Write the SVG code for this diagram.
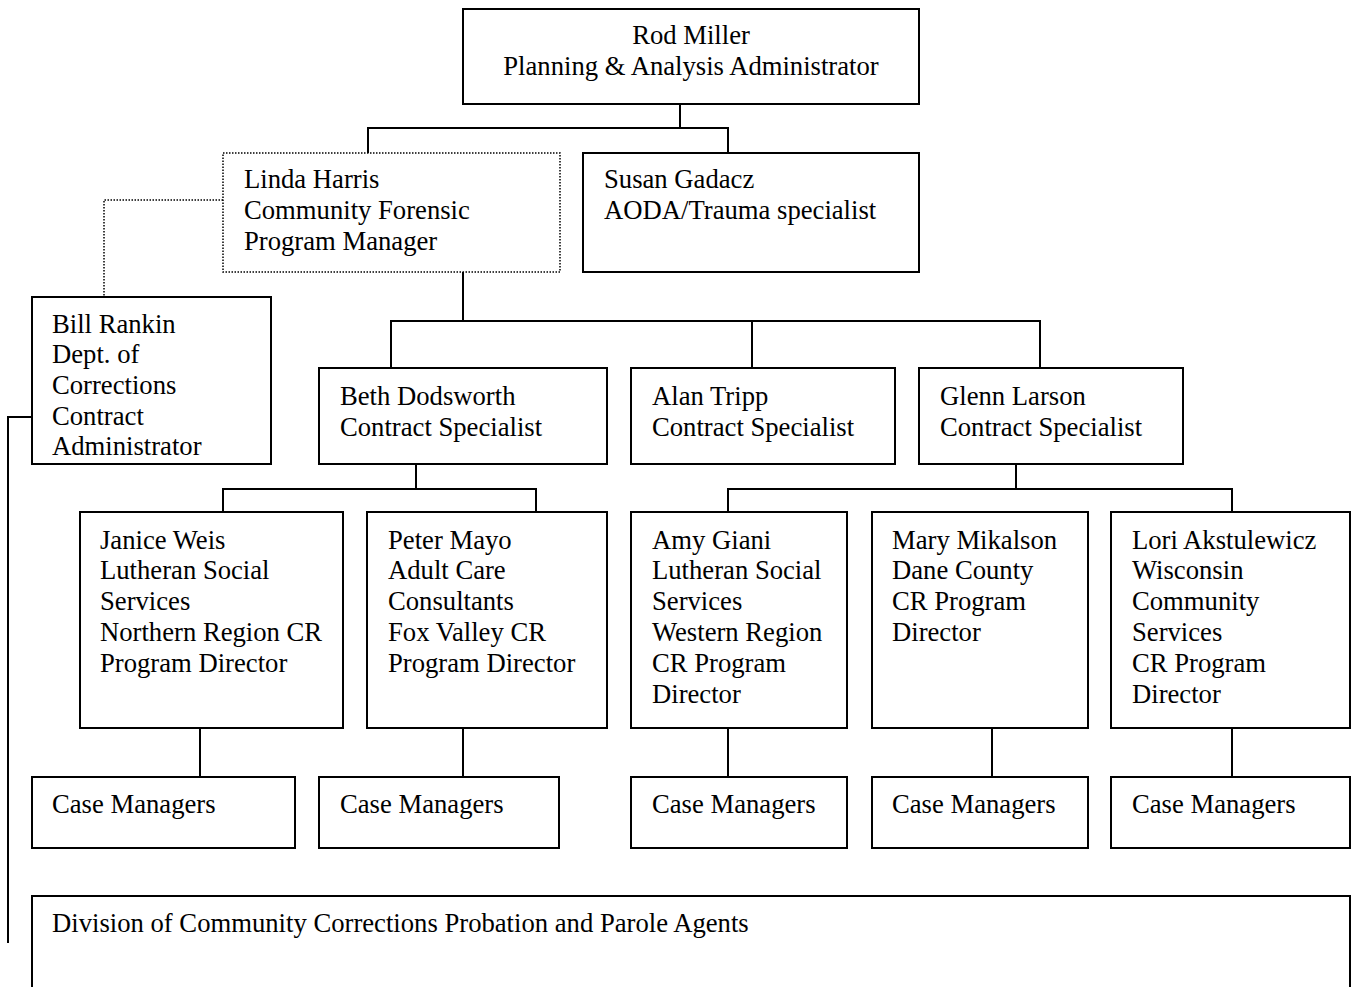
<svg xmlns="http://www.w3.org/2000/svg" width="1352" height="987" viewBox="0 0 1352 987">
  <style>
    .box { fill: #ffffff; stroke: #000000; stroke-width: 2; }
    .dot { fill: #ffffff; stroke: #000000; stroke-width: 1.5; stroke-dasharray: 1.5 1.5; }
    .ln { fill: none; stroke: #000000; stroke-width: 2; }
    .dln { fill: none; stroke: #000000; stroke-width: 1.5; stroke-dasharray: 1.5 1.5; }
    text { font-family: "Liberation Serif", "Times New Roman", serif; font-size: 26.67px; fill: #000000; }
  </style>
  <rect width="1352" height="987" fill="#ffffff"/>

  <!-- reporting lines -->
  <g id="connectors">
    <polyline class="ln" points="680,104 680,128"/>
    <polyline class="ln" points="368,153 368,128 728,128 728,153"/>
    <polyline class="dln" points="223,200 104,200 104,296"/>
    <polyline class="ln" points="463,272 463,321"/>
    <polyline class="ln" points="391,368 391,321 1040,321 1040,368"/>
    <polyline class="ln" points="752,321 752,368"/>
    <polyline class="ln" points="416,464 416,489"/>
    <polyline class="ln" points="223,512 223,489 536,489 536,512"/>
    <polyline class="ln" points="1016,464 1016,489"/>
    <polyline class="ln" points="728,512 728,489 1232,489 1232,512"/>
    <polyline class="ln" points="200,728 200,777"/>
    <polyline class="ln" points="463,728 463,777"/>
    <polyline class="ln" points="728,728 728,777"/>
    <polyline class="ln" points="992,728 992,777"/>
    <polyline class="ln" points="1232,728 1232,777"/>
    <polyline class="ln" points="32,417 8,417 8,943"/>
  </g>

  <g id="rod-miller">
    <rect class="box" x="463" y="9" width="456" height="95"/>
    <text x="691" y="44" text-anchor="middle">Rod Miller</text>
    <text x="691" y="75" text-anchor="middle">Planning &amp; Analysis Administrator</text>
  </g>

  <g id="linda-harris">
    <rect class="dot" x="223" y="153" width="337" height="119"/>
    <text x="244" y="188">Linda Harris</text>
    <text x="244" y="219">Community Forensic</text>
    <text x="244" y="250">Program Manager</text>
  </g>

  <g id="susan-gadacz">
    <rect class="box" x="583" y="153" width="336" height="119"/>
    <text x="604" y="188">Susan Gadacz</text>
    <text x="604" y="219">AODA/Trauma specialist</text>
  </g>

  <g id="bill-rankin">
    <rect class="box" x="32" y="297" width="239" height="167"/>
    <text x="52" y="333">Bill Rankin</text>
    <text x="52" y="363">Dept. of</text>
    <text x="52" y="394">Corrections</text>
    <text x="52" y="425">Contract</text>
    <text x="52" y="455">Administrator</text>
  </g>

  <g id="beth-dodsworth">
    <rect class="box" x="319" y="368" width="288" height="96"/>
    <text x="340" y="405">Beth Dodsworth</text>
    <text x="340" y="436">Contract Specialist</text>
  </g>

  <g id="alan-tripp">
    <rect class="box" x="631" y="368" width="264" height="96"/>
    <text x="652" y="405">Alan Tripp</text>
    <text x="652" y="436">Contract Specialist</text>
  </g>

  <g id="glenn-larson">
    <rect class="box" x="919" y="368" width="264" height="96"/>
    <text x="940" y="405">Glenn Larson</text>
    <text x="940" y="436">Contract Specialist</text>
  </g>

  <g id="janice-weis">
    <rect class="box" x="80" y="512" width="263" height="216"/>
    <text x="100" y="549">Janice Weis</text>
    <text x="100" y="579">Lutheran Social</text>
    <text x="100" y="610">Services</text>
    <text x="100" y="641">Northern Region CR</text>
    <text x="100" y="672">Program Director</text>
  </g>

  <g id="peter-mayo">
    <rect class="box" x="367" y="512" width="240" height="216"/>
    <text x="388" y="549">Peter Mayo</text>
    <text x="388" y="579">Adult Care</text>
    <text x="388" y="610">Consultants</text>
    <text x="388" y="641">Fox Valley CR</text>
    <text x="388" y="672">Program Director</text>
  </g>

  <g id="amy-giani">
    <rect class="box" x="631" y="512" width="216" height="216"/>
    <text x="652" y="549">Amy Giani</text>
    <text x="652" y="579">Lutheran Social</text>
    <text x="652" y="610">Services</text>
    <text x="652" y="641">Western Region</text>
    <text x="652" y="672">CR Program</text>
    <text x="652" y="703">Director</text>
  </g>

  <g id="mary-mikalson">
    <rect class="box" x="872" y="512" width="216" height="216"/>
    <text x="892" y="549">Mary Mikalson</text>
    <text x="892" y="579">Dane County</text>
    <text x="892" y="610">CR Program</text>
    <text x="892" y="641">Director</text>
  </g>

  <g id="lori-akstulewicz">
    <rect class="box" x="1111" y="512" width="239" height="216"/>
    <text x="1132" y="549">Lori Akstulewicz</text>
    <text x="1132" y="579">Wisconsin</text>
    <text x="1132" y="610">Community</text>
    <text x="1132" y="641">Services</text>
    <text x="1132" y="672">CR Program</text>
    <text x="1132" y="703">Director</text>
  </g>

  <g id="case-managers-1">
    <rect class="box" x="32" y="777" width="263" height="71"/>
    <text x="52" y="813">Case Managers</text>
  </g>
  <g id="case-managers-2">
    <rect class="box" x="319" y="777" width="240" height="71"/>
    <text x="340" y="813">Case Managers</text>
  </g>
  <g id="case-managers-3">
    <rect class="box" x="631" y="777" width="216" height="71"/>
    <text x="652" y="813">Case Managers</text>
  </g>
  <g id="case-managers-4">
    <rect class="box" x="872" y="777" width="216" height="71"/>
    <text x="892" y="813">Case Managers</text>
  </g>
  <g id="case-managers-5">
    <rect class="box" x="1111" y="777" width="239" height="71"/>
    <text x="1132" y="813">Case Managers</text>
  </g>

  <g id="dcc-agents">
    <rect class="box" x="32" y="896" width="1318" height="110"/>
    <text x="52" y="932">Division of Community Corrections Probation and Parole Agents</text>
  </g>
</svg>
